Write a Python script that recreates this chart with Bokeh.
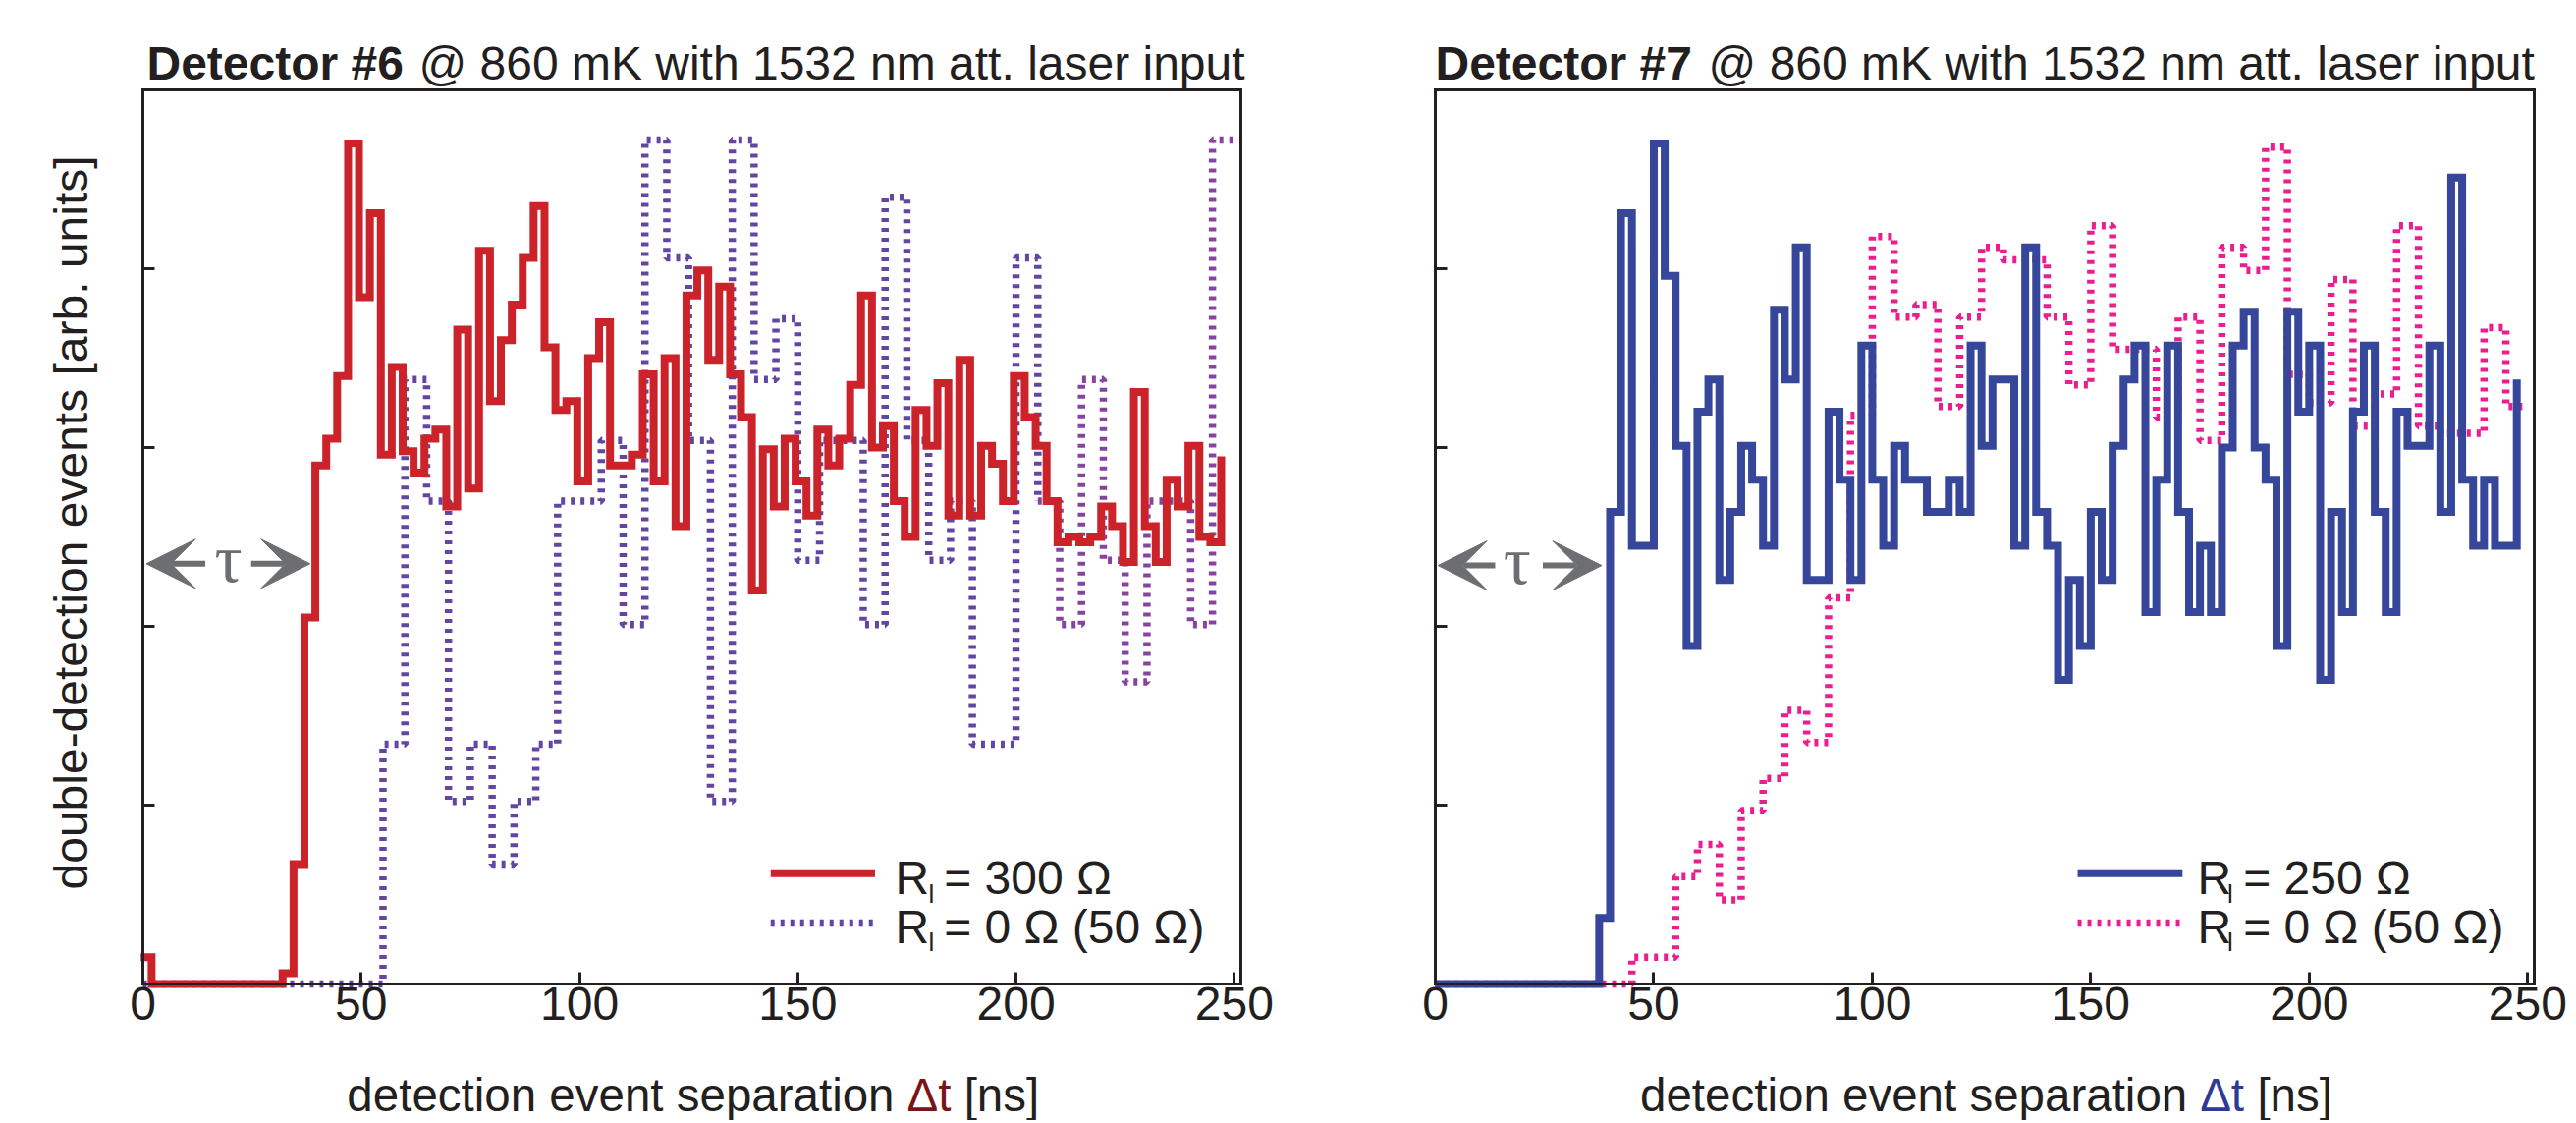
import numpy as np
from bokeh.plotting import figure
from bokeh.layouts import row
from bokeh.models import (Range1d, FixedTicker, Label, Arrow, VeeHead,
                          LinearAxis)
from bokeh.embed import file_html
from bokeh.resources import INLINE

# ---------------------------------------------------------------- data
x_tick_values = [0, 50, 100, 150, 200, 250]
y_tick_values = [1, 2, 3, 4]

# Detector #6, R_l = 300 Ohm : 2.5 ns bins (stairs, last value = final riser)
det6_fine_width = 2.5
det6_fine_start = -0.5
det6_rl300 = [
    0.15, 0.0, 0.0, 0.0, 0.0, 0.0, 0.0, 0.0, 0.0, 0.0, 0.0, 0.0, 0.0,
    0.06, 0.67, 2.05, 2.90, 3.05, 3.40, 4.70, 3.84, 4.31, 2.96, 3.45, 2.98,
    2.86, 3.05, 3.10, 2.67, 3.66, 2.77, 4.10, 3.26, 3.60, 3.80, 4.06, 4.35,
    3.56, 3.21, 3.26, 2.81, 3.50, 3.70, 2.90, 2.90, 2.96, 3.41, 2.81, 3.50,
    2.56, 3.85, 3.99, 3.49, 3.90, 3.41, 3.17, 2.20, 2.99, 2.67, 3.05, 2.81,
    2.62, 3.10, 2.90, 3.05, 3.35, 3.85, 3.00, 3.12, 2.70, 2.50, 3.21, 3.01,
    3.36, 2.62, 3.49, 2.62, 3.01, 2.91, 2.70, 3.40, 3.17, 3.01, 2.70, 2.47,
    2.50, 2.47, 2.50, 2.67, 2.56, 2.36, 3.31, 2.56, 2.36, 2.82, 2.67, 3.01,
    2.50, 2.47, 2.95,
]
# Detector #6, R_l = 0 Ohm (50 Ohm) : 5 ns bins
det6_coarse_width = 5.0
det6_rl0 = [
    0.0, 0.0, 0.0, 0.0, 0.0, 0.0, 0.0, 0.0, 0.0, 0.0, 0.0,
    1.34, 3.38, 2.70, 1.02, 1.34, 0.67, 1.02, 1.34, 2.70, 2.70, 3.04, 2.01,
    4.72, 4.06, 3.04, 1.02, 4.72, 3.38, 3.72, 2.37, 3.04, 3.04, 2.01, 4.40,
    3.04, 2.37, 2.70, 1.34, 1.34, 4.06, 2.70, 2.01, 3.38, 2.37, 1.69, 2.70,
    2.70, 2.01, 4.72,
]
# Detector #7, R_l = 250 Ohm : 2.5 ns bins
det7_fine_width = 2.5
det7_fine_start = 0.0
det7_rl250 = [
    0.0, 0.0, 0.0, 0.0, 0.0, 0.0, 0.0, 0.0, 0.0, 0.0, 0.0, 0.0, 0.0, 0.0, 0.0,
    0.37, 2.64, 4.31, 2.45, 2.45, 4.70, 3.96, 3.01, 1.89, 3.20, 3.38, 2.26,
    2.64, 3.01, 2.82, 2.45, 3.77, 3.38, 4.12, 2.26, 2.26, 3.20, 2.82, 2.26,
    3.57, 2.82, 2.45, 3.01, 2.82, 2.82, 2.64, 2.64, 2.82, 2.64, 3.57, 3.01,
    3.38, 3.38, 2.45, 4.12, 2.64, 2.45, 1.70, 2.26, 1.89, 2.64, 2.26, 3.01,
    3.38, 3.57, 2.08, 2.82, 3.57, 2.64, 2.08, 2.45, 2.08, 3.00, 3.57, 3.76,
    3.00, 2.82, 1.89, 3.76, 3.20, 3.57, 1.70, 2.64, 2.08, 3.20, 3.57, 2.64,
    2.08, 3.20, 3.01, 3.01, 3.57, 2.64, 4.51, 2.82, 2.45, 2.82, 2.45, 2.45,
    3.38,
]
# Detector #7, R_l = 0 Ohm (50 Ohm) : 5 ns bins
det7_coarse_width = 5.0
det7_rl0 = [
    0.0, 0.0, 0.0, 0.0, 0.0, 0.0, 0.0, 0.0, 0.0,
    0.15, 0.15, 0.60, 0.78, 0.47, 0.97, 1.15, 1.53, 1.35, 2.16, 3.18, 4.18,
    3.73, 3.80, 3.23, 3.73, 4.12, 4.05, 4.05, 3.73, 3.35, 4.24, 3.55, 3.55,
    3.17, 3.73, 3.04, 4.12, 3.99, 4.68, 3.41, 3.25, 3.94, 3.12, 3.30, 4.24,
    3.12, 3.08, 3.08, 3.67, 3.23,
]

title_bold = ["Detector #6", "Detector #7"]
title_rest = "@ 860 mK with 1532 nm att. laser input"
legend_text_6 = ["= 300 \u03a9", "= 0 \u03a9 (50 \u03a9)"]
legend_text_7 = ["= 250 \u03a9", "= 0 \u03a9 (50 \u03a9)"]
x_label_parts = ["detection event separation", "\u0394t", "[ns]"]
y_label = "double-detection events [arb. units]"

# ---------------------------------------------------------------- style
FONT = "Liberation Sans"
SERIF = "Liberation Serif"
DARK = "#231f20"
GRAY = "#6d6e71"
RED = "#cc2229"
PURPLE_A = "#6346a1"
PURPLE_B = "#8643a0"
BLUE = "#35469b"
PINK = "#ec1d8e"
DELTA_RED = "#7a1416"
DELTA_BLUE = "#2e3a94"

X_END = 251.5          # right edge of the plot box (ns)
Y_END = 5.0            # top edge of the plot box
CANVAS_H = 1140
BOX_TOP = 91           # px from top of canvas
BOX_H = 910
PX_PER_Y = BOX_H / Y_END
BASE_SHIFT = 0.27      # renderer draws the alphabetic baseline ~0.27 em low


def anchor(baseline, font_px):
    """data-y anchor that puts the text baseline at `baseline`"""
    return baseline + BASE_SHIFT * font_px / PX_PER_Y


def fine_x(values, width, start):
    return start + width * np.arange(len(values))


def coarse_xy(values, width):
    x = width * np.arange(len(values) + 1)
    y = list(values) + [values[-1]]
    return x, y


def plain_axis(ax):
    ax.major_tick_in = 12
    ax.major_tick_out = 0
    ax.minor_tick_in = 0
    ax.minor_tick_out = 0
    ax.major_tick_line_width = 3
    ax.major_tick_line_color = DARK
    ax.axis_line_width = 3
    ax.axis_line_color = DARK
    ax.axis_line_cap = "square"


def make_panel(canvas_w, box_left, box_w):
    sx = box_w / X_END
    x0 = -box_left / sx
    x1 = (canvas_w - box_left) / sx
    y1 = Y_END + BOX_TOP / PX_PER_Y
    y0 = Y_END - (CANVAS_H - BOX_TOP) / PX_PER_Y
    p = figure(frame_width=canvas_w, frame_height=CANVAS_H,
               x_range=Range1d(x0, x1), y_range=Range1d(y0, y1),
               min_border=0, output_backend="svg", toolbar_location=None,
               background_fill_color="white", border_fill_color="white")
    p.title.visible = False
    p.xgrid.visible = False
    p.ygrid.visible = False
    p.outline_line_color = None

    xa = p.xaxis[0]
    xa.fixed_location = 0
    xa.bounds = (0, X_END)
    xa.ticker = FixedTicker(ticks=x_tick_values)
    plain_axis(xa)
    xa.major_label_text_font = FONT
    xa.major_label_text_font_size = "48px"
    xa.major_label_text_color = DARK
    xa.major_label_standoff = 3

    ya = p.yaxis[0]
    ya.fixed_location = 0
    ya.bounds = (0, Y_END)
    ya.ticker = FixedTicker(ticks=y_tick_values)
    plain_axis(ya)
    ya.major_label_overrides = {t: "" for t in y_tick_values}
    ya.major_label_text_font_size = "1px"

    top = LinearAxis(fixed_location=Y_END, bounds=(0, X_END),
                     ticker=FixedTicker(ticks=[]))
    plain_axis(top)
    top.major_label_text_font_size = "1px"
    p.add_layout(top, "above")
    right = LinearAxis(fixed_location=X_END, bounds=(0, Y_END),
                       ticker=FixedTicker(ticks=[]))
    plain_axis(right)
    right.major_label_text_font_size = "1px"
    p.add_layout(right, "right")
    return p


def text(p, x, y, s, size=47, color=DARK, align="left",
         baseline="alphabetic", style="normal", font=FONT, angle=0.0):
    p.add_layout(Label(x=x, y=y, text=s, text_font=font,
                       text_font_size=f"{size}px",
                       text_color=color, text_align=align,
                       text_baseline=baseline, text_font_style=style,
                       angle=angle))


def tau_marker(p, y, left_tip, left_tail, right_tail, right_tip, tau_x):
    for tail, tip in ((left_tail, left_tip), (right_tail, right_tip)):
        p.add_layout(Arrow(end=VeeHead(size=50, fill_color=GRAY, line_color=GRAY,
                                       line_width=1),
                           x_start=tail, y_start=y, x_end=tip, y_end=y,
                           line_color=GRAY, line_width=6))
    text(p, tau_x, y + 0.03, "\u03c4", size=70, color=GRAY,
         align="center", baseline="middle", font=SERIF)


def legend(p, x_line0, x_line1, x_r, x_sub, x_eq, labels, colors, dashed):
    rows_line = [0.62, 0.34]
    rows_base = [0.52, 0.25]
    for i in range(2):
        if dashed[i]:
            p.line([x_line0, x_line1], [rows_line[i]] * 2, line_color=colors[i],
                   line_width=7.5, line_dash="4 6")
        else:
            p.line([x_line0, x_line1], [rows_line[i]] * 2, line_color=colors[i],
                   line_width=8)
        text(p, x_r, anchor(rows_base[i], 48), "R", size=48)
        text(p, x_sub, anchor(rows_base[i] - 0.055, 26), "l", size=26,
             align="center")
        text(p, x_eq, anchor(rows_base[i], 48), labels[i], size=48)


def x_label(p, delta_color):
    yb = anchor(-0.692, 47.5)
    text(p, 172.1, yb, x_label_parts[0], size=47.5, align="right")
    text(p, 175.0, yb, x_label_parts[1], size=47.5, color=delta_color)
    text(p, 188.1, yb, x_label_parts[2], size=47.5)


def title(p, x_bold, x_rest, bold):
    yb = anchor(5.077, 48)
    text(p, x_bold, yb, bold, size=48, style="bold")
    text(p, x_rest, yb, title_rest, size=48)


# ---------------------------------------------------------------- left panel
p1 = make_panel(1308, 145, 1118)
x6c, y6c = coarse_xy(det6_rl0, det6_coarse_width)
split = 41
p1.step(x6c[:split + 1], y6c[:split + 1], mode="after", line_color=PURPLE_A,
        line_width=7.5, line_dash="4 6")
p1.step(x6c[split:], y6c[split:], mode="after", line_color=PURPLE_B,
        line_width=7.5, line_dash="4 6")
p1.step(fine_x(det6_rl300, det6_fine_width, det6_fine_start), det6_rl300,
        mode="after", line_color=RED, line_width=8, line_join="miter")
legend(p1, 143.8, 167.7, 172.3, 180.6, 183.5, legend_text_6,
       [RED, PURPLE_A], [False, True])
tau_marker(p1, 2.35, 0.8, 14.3, 24.8, 38.3, 19.6)
title(p1, 0.9, 63.2, title_bold[0])
x_label(p1, DELTA_RED)
text(p1, -16.4, 2.58, y_label, size=48, align="center", angle=np.pi / 2)

# ---------------------------------------------------------------- right panel
p2 = make_panel(1312, 153, 1119)
x7c, y7c = coarse_xy(det7_rl0, det7_coarse_width)
p2.step(x7c, y7c, mode="after", line_color=PINK, line_width=7.5,
        line_dash="4 6")
p2.step(fine_x(det7_rl250, det7_fine_width, det7_fine_start), det7_rl250,
        mode="after", line_color=BLUE, line_width=8, line_join="miter")
legend(p2, 147.0, 171.0, 174.4, 181.9, 184.9, legend_text_7,
       [BLUE, PINK], [False, True])
tau_marker(p2, 2.34, 0.6, 13.7, 24.6, 38.1, 18.7)
title(p2, 0.0, 62.5, title_bold[1])
x_label(p2, DELTA_BLUE)

layout = row(p1, p2, spacing=0)
open("out.html", "w").write(file_html(layout, INLINE))
